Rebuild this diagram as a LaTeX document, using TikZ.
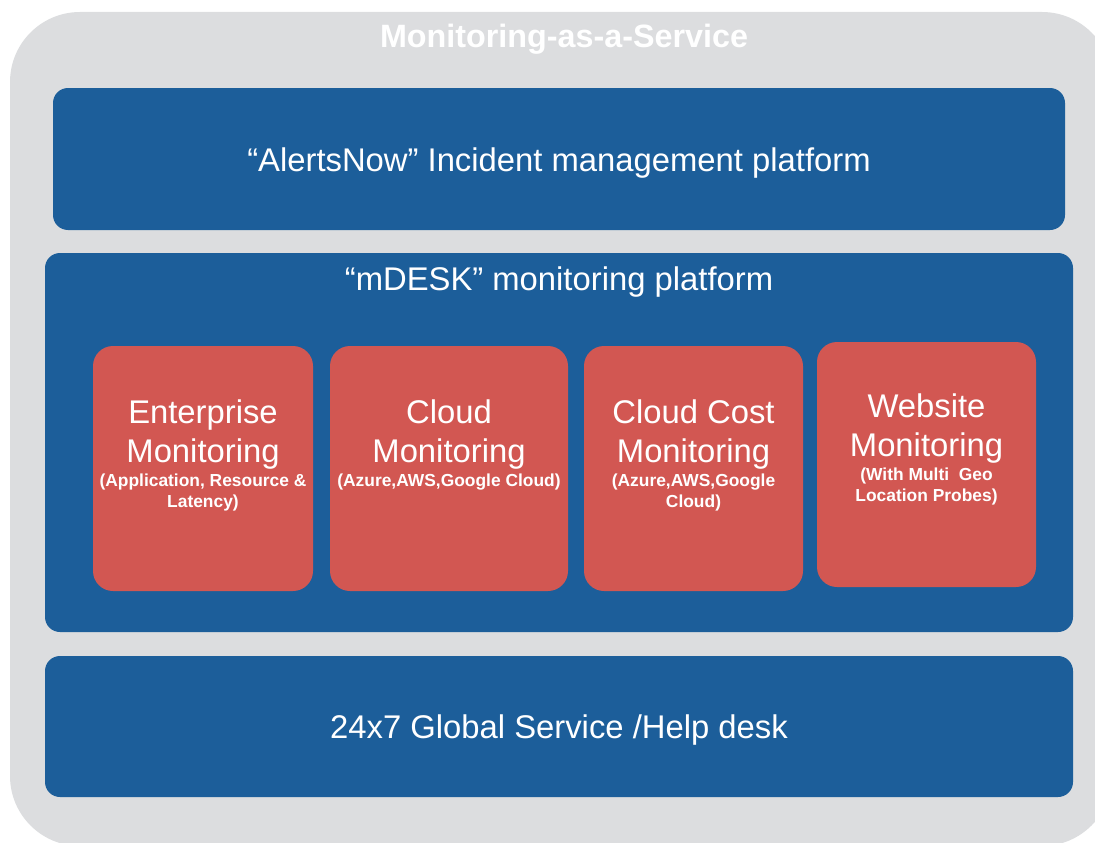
\documentclass[tikz,border=0pt]{standalone}
\usepackage{fontspec}
\setmainfont{Liberation Sans}
\usepackage{tikz}
\usetikzlibrary{positioning}

\definecolor{frame}{RGB}{220,221,223}
\definecolor{bluebar}{RGB}{28,94,154}
\definecolor{redbox}{RGB}{210,87,82}

\tikzset{
  layer/.style={fill=bluebar, rounded corners=15pt, inner sep=0pt},
  probe/.style={fill=redbox, rounded corners=20pt, inner sep=0pt,
    minimum width=219pt, minimum height=245pt},
  big/.style={text=white, align=center, inner sep=0pt,
    font=\fontsize{32.8}{38.5}\selectfont},
  small/.style={text=white, align=center, inner sep=0pt,
    font=\bfseries\fontsize{17.4}{21.5}\selectfont}
}

\begin{document}
\begin{tikzpicture}[x=1pt,y=-1pt]

	\useasboundingbox (0,0) rectangle (1095,843);
	\clip (0,0) rectangle (1095,843);

	% outer frame
	\fill [frame, rounded corners=70pt] (10,12) rectangle (1112,846);
	\node [text=white, font=\bfseries\fontsize{32.3}{38}\selectfont] (title) at (564,39) {Monitoring-as-a-Service};

	% the three layers
	\node [layer, minimum width=1012pt, minimum height=142pt] (alerts) at (559,159) {};
	\node [layer, minimum width=1028pt, minimum height=379pt] (mdesk) at (559,442.5) {};
	\node [layer, minimum width=1028pt, minimum height=141pt] (help) at (559,726.5) {};

	\node [big, yshift=-4pt] (alertstxt) at (alerts.center) {“AlertsNow” Incident management platform};
	\node [big, below=14pt of mdesk.north] (mdesktxt) {“mDESK” monitoring platform};
	\node [big, yshift=-4pt] (helptxt) at (help.center) {24x7 Global Service /Help desk};

	% monitoring boxes
	\node [probe, minimum width=220pt] (ent) at (203,468.5) {};
	\node [probe, minimum width=238pt] (cloud) at (449,468.5) {};
	\node [probe] (cost) at (693.5,468.5) {};
	\node [probe] (web) at (926.5,464.5) {};

	\node [big, below=54pt of ent.north] (entt) {Enterprise\\Monitoring};
	\node [small, below=4pt of entt] (ents) {(Application, Resource \&\\Latency)};

	\node [big, below=54pt of cloud.north] (cloudt) {Cloud\\Monitoring};
	\node [small, below=4pt of cloudt] (clouds) {(Azure,AWS,Google Cloud)};

	\node [big, below=54pt of cost.north] (costt) {Cloud Cost\\Monitoring};
	\node [small, below=4pt of costt] (costs) {(Azure,AWS,Google\\Cloud)};

	\node [big, below=52pt of web.north] (webt) {Website\\Monitoring};
	\node [small, below=4pt of webt] (webs) {(With Multi~ Geo\\Location Probes)};

\end{tikzpicture}
\end{document}
